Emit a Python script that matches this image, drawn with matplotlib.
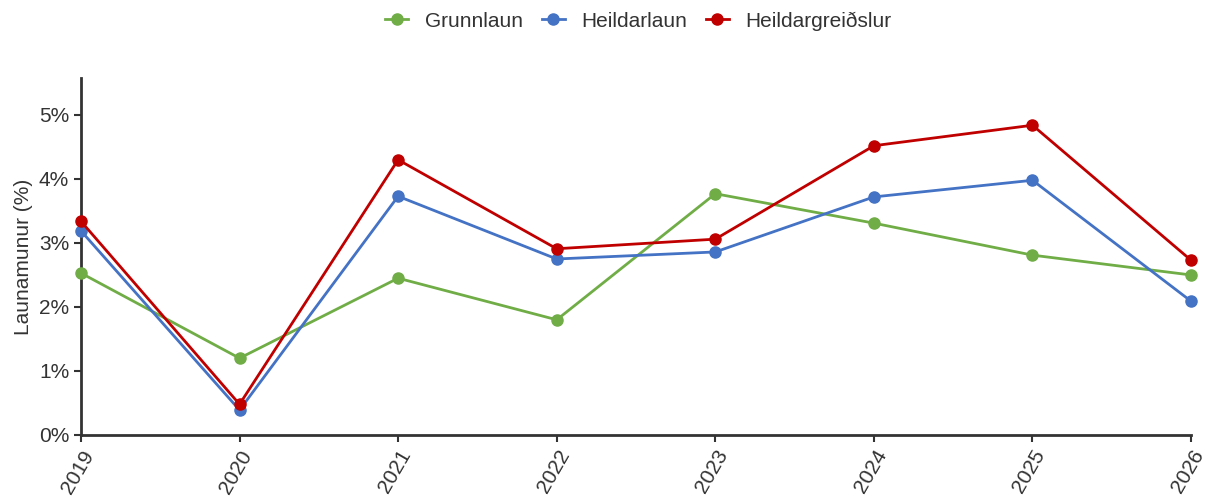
import matplotlib.pyplot as plt
from matplotlib.ticker import FuncFormatter

years = ["2019", "2020", "2021", "2022", "2023", "2024", "2025", "2026"]
grunnlaun = [2.53, 1.20, 2.45, 1.80, 3.77, 3.31, 2.81, 2.50]
heildarlaun = [3.19, 0.39, 3.73, 2.75, 2.86, 3.72, 3.98, 2.09]
heildargreidslur = [3.34, 0.48, 4.30, 2.91, 3.06, 4.52, 4.84, 2.73]

series = [
    ("Grunnlaun", grunnlaun, "#70ad47"),
    ("Heildarlaun", heildarlaun, "#4472c4"),
    ("Heildargreiðslur", heildargreidslur, "#c00000"),
]

plt.rcParams["font.family"] = ["Liberation Sans", "DejaVu Sans"]

fig = plt.figure(figsize=(12.08, 4.96), dpi=100)
ax = fig.add_axes([0.067, 0.123, 0.919, 0.720])

x = list(range(len(years)))
for name, vals, color in series:
    ax.plot(x, vals, color=color, lw=2, marker="o", ms=8, label=name, clip_on=False, zorder=3)

ax.set_xlim(0, len(years) - 1)
ax.set_ylim(0, 5.58)
ax.set_xticks(x)
ax.set_xticklabels(years, rotation=60, ha="right", rotation_mode="anchor", fontsize=15, color="#333333")
ax.set_yticks([0, 1, 2, 3, 4, 5])
ax.yaxis.set_major_formatter(FuncFormatter(lambda v, p: f"{v:.0f}%"))
ax.tick_params(axis="y", labelsize=15, labelcolor="#333333")
ax.tick_params(direction="out", length=5, width=1.5, color="#333333")
ax.set_ylabel("Launamunur (%)", fontsize=15, color="#333333")

for s in ["top", "right"]:
    ax.spines[s].set_visible(False)
for s in ["left", "bottom"]:
    ax.spines[s].set_linewidth(2)
    ax.spines[s].set_color("#333333")

fig.legend(loc="upper center", bbox_to_anchor=(0.5286, 1.015), ncol=3, frameon=False,
           fontsize=15, handlelength=1.1, handletextpad=0.8, columnspacing=0.9,
           labelcolor="#333333")

fig.savefig("out.png", dpi=100)
